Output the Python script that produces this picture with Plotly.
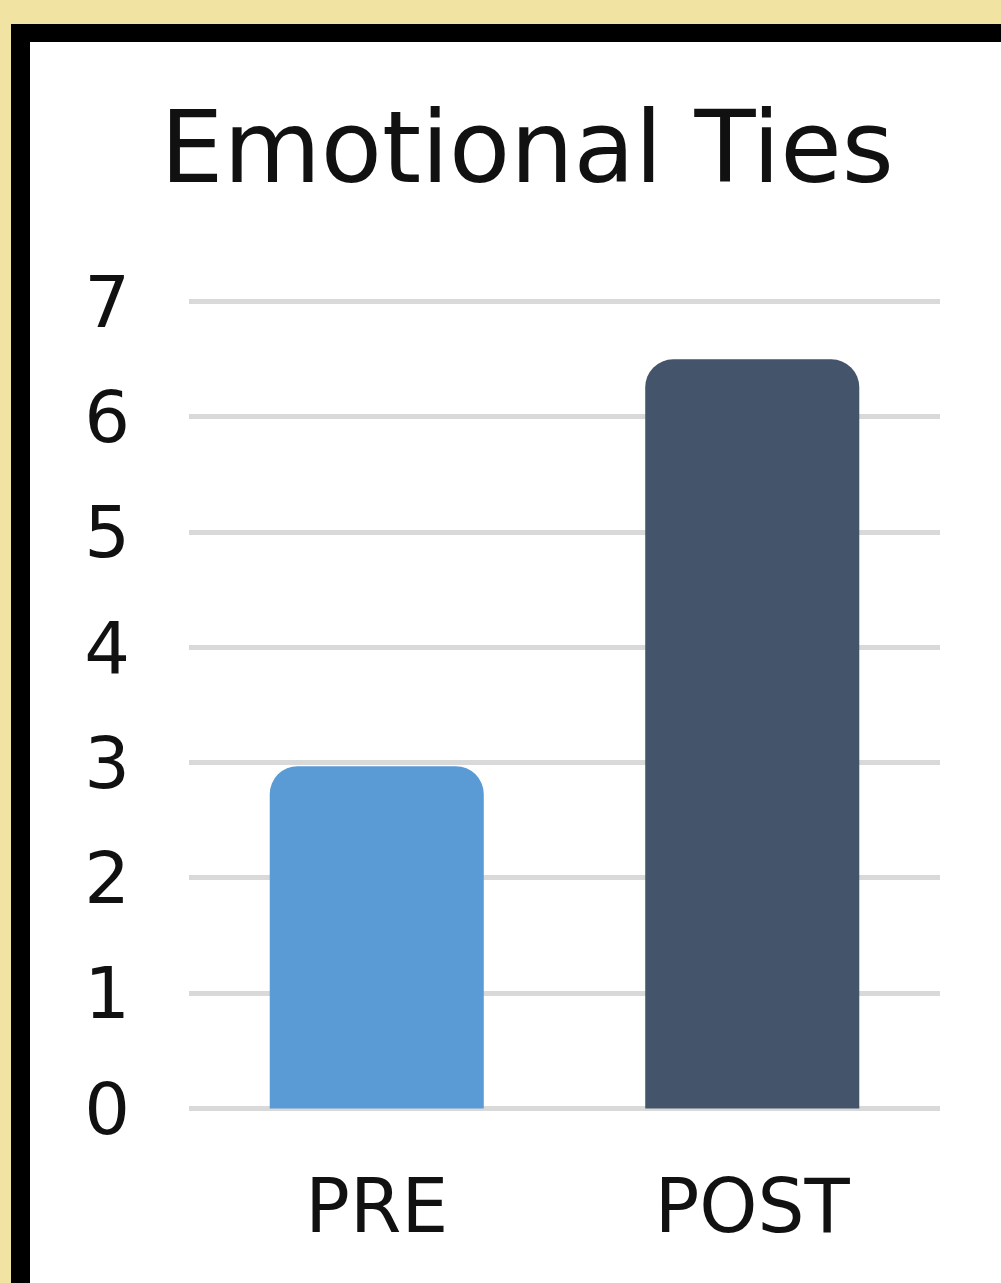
import plotly.graph_objects as go

categories = ["PRE", "POST"]
values = [2.97, 6.5]
bar_colors = ["#5B9BD5", "#44546A"]
y_ticks = [0, 1, 2, 3, 4, 5, 6, 7]
title_text = "Emotional Ties"

W, H = 1001, 1283
L, R, T, B = 189, 61, 297, 174
pw, ph = W - L - R, H - T - B

def px_x(px):
    return (px - L) / pw

def px_y(py):
    return (H - B - py) / ph

fig = go.Figure()
fig.add_trace(go.Bar(
    x=categories, y=values,
    marker=dict(color=bar_colors, line=dict(width=0), cornerradius=28),
    width=0.57,
))

font_family = "DejaVu Sans, Verdana, sans-serif"

fig.update_layout(
    width=W, height=H,
    margin=dict(l=L, r=R, t=T, b=B, pad=0),
    paper_bgcolor="#F1E3A1",
    plot_bgcolor="rgba(0,0,0,0)",
    showlegend=False,
    title=dict(
        text=title_text,
        font=dict(family=font_family, size=100, color="#111111"),
        x=527 / W, xanchor="center", xref="container",
        y=1 - 147 / H, yanchor="middle", yref="container",
    ),
    shapes=[
        dict(type="rect", xref="paper", yref="paper", layer="below",
             x0=px_x(11), x1=px_x(W + 20), y0=px_y(H + 20), y1=px_y(24),
             fillcolor="#000000", line=dict(width=0)),
        dict(type="rect", xref="paper", yref="paper", layer="below",
             x0=px_x(30), x1=px_x(W + 20), y0=px_y(H + 20), y1=px_y(42),
             fillcolor="#FFFFFF", line=dict(width=0)),
    ],
)

fig.update_yaxes(
    range=[-0.004, 7.04], tickvals=y_ticks, ticktext=[str(v) for v in y_ticks],
    showgrid=True, gridcolor="#D9D9D9", gridwidth=5,
    zeroline=True, zerolinecolor="#D9D9D9", zerolinewidth=5,
    showline=False, ticks="",
    tickfont=dict(family=font_family, size=72, color="#111111"),
    ticklabelstandoff=58,
)
fig.update_xaxes(
    showgrid=False, zeroline=False, showline=False, ticks="",
    tickfont=dict(family=font_family, size=74, color="#111111"),
    ticklabelstandoff=48,
)

fig.write_html("out.html")
